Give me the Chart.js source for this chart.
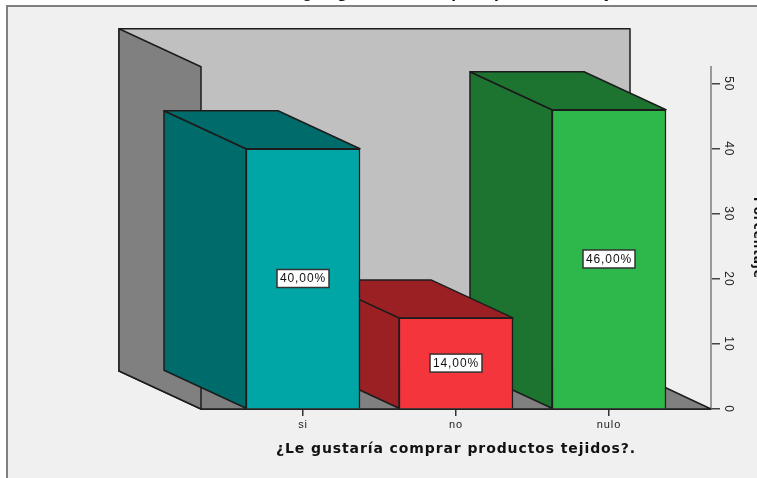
<!DOCTYPE html>
<html>
<head>
<meta charset="utf-8">
<script src="https://cdn.jsdelivr.net/npm/chart.js@4"></script>
<style>
    html, body { margin: 0; background: #fff; }
    /* the reference is cropped on the top and right, so the canvas hangs over the edge */
    #wrap { position: relative; width: 757px; height: 478px; overflow: hidden; }
    #chart { position: absolute; left: 0; top: -14px; }
</style>
</head>
<body>
<div id="wrap"><canvas id="chart" width="764" height="492"></canvas></div>
<script>
const categories = ['si', 'no', 'nulo'];
const percentages = [40, 14, 46];
const yTickValues = [0, 10, 20, 30, 40, 50];
const xTitle = '¿Le gustaría comprar productos tejidos?.';
const yTitle = 'Porcentaje';

const frontColors = ['#00a6a6', '#f4353b', '#2eb84c'];
const darkColors = ['#006b6b', '#9a2024', '#1d7330'];

const DEPTH_X = -82;
const DEPTH_Y = -38;
const LINE = '#1c1c1c';

function poly(ctx, pts, fill) {
    ctx.beginPath();
    pts.forEach((p, i) => i ? ctx.lineTo(p[0], p[1]) : ctx.moveTo(p[0], p[1]));
    ctx.closePath();
    ctx.fillStyle = fill;
    ctx.fill();
    ctx.lineWidth = 1.5;
    ctx.strokeStyle = LINE;
    ctx.lineJoin = 'round';
    ctx.stroke();
}

const box3d = {
    id: 'box3d',
    beforeDraw(chart) {
        const { ctx } = chart;
        ctx.save();
        ctx.fillStyle = '#fff';
        ctx.fillRect(0, 0, chart.width, chart.height);
        ctx.fillStyle = '#f0f0f0';
        ctx.fillRect(6, 19, chart.width, chart.height);
        ctx.fillStyle = '#808080';
        ctx.fillRect(6, 19, chart.width, 2);
        ctx.fillRect(6, 19, 2, chart.height);
        ctx.restore();
        // all the text in the reference is a bit spaced out
        ctx.letterSpacing = '0.9px';
    },
    beforeDatasetsDraw(chart) {
        const { ctx, chartArea: a } = chart;
        ctx.save();
        // back wall, floor and left wall
        poly(ctx, [[a.left + DEPTH_X, a.top + DEPTH_Y], [a.right - 81 , a.top + DEPTH_Y], [a.right - 81, a.bottom + DEPTH_Y], [a.left + DEPTH_X, a.bottom + DEPTH_Y]], '#c0c0c0');
        poly(ctx, [[a.left + DEPTH_X, a.bottom + DEPTH_Y], [a.right - 81, a.bottom + DEPTH_Y], [a.right, a.bottom], [a.left, a.bottom]], '#808080');
        poly(ctx, [[a.left + DEPTH_X, a.top + DEPTH_Y], [a.left, a.top], [a.left, a.bottom], [a.left + DEPTH_X, a.bottom + DEPTH_Y]], '#808080');

        // right to left, the nearer bar hides the side of the next one
        const bars = chart.getDatasetMeta(0).data;
        for (let i = bars.length - 1; i >= 0; i--) {
            const b = bars[i];
            const l = b.x - b.width / 2, r = b.x + b.width / 2;
            poly(ctx, [[l + DEPTH_X, b.y + DEPTH_Y], [l, b.y], [l, b.base], [l + DEPTH_X, b.base + DEPTH_Y]], darkColors[i]);
            poly(ctx, [[l + DEPTH_X, b.y + DEPTH_Y], [r + DEPTH_X, b.y + DEPTH_Y], [r, b.y], [l, b.y]], darkColors[i]);
        }
        ctx.restore();
    },
    afterDatasetsDraw(chart) {
        const { ctx } = chart;
        const bars = chart.getDatasetMeta(0).data;
        ctx.save();
        ctx.font = '12px "Liberation Sans"';
        ctx.textAlign = 'center';
        ctx.textBaseline = 'middle';
        bars.forEach((b, i) => {
            const cy = (b.y + b.base) / 2;
            ctx.fillStyle = '#fff';
            ctx.fillRect(b.x - 26, cy - 9, 52, 18);
            ctx.strokeStyle = '#333';
            ctx.lineWidth = 1.5;
            ctx.strokeRect(b.x - 26, cy - 9, 52, 18);
            ctx.fillStyle = '#111';
            ctx.fillText(percentages[i].toFixed(2).replace('.', ',') + '%', b.x, cy + 0.5);
        });
        ctx.restore();
    }
};

new Chart(document.getElementById('chart'), {
    type: 'bar',
    plugins: [box3d],
    data: {
        datasets: [{
            data: categories.map((c, i) => ({ x: i, y: percentages[i] })),
            backgroundColor: frontColors,
            borderColor: LINE,
            borderWidth: 1.5,
            barThickness: 114
        }]
    },
    options: {
        responsive: false,
        animation: false,
        devicePixelRatio: 1,
        layout: { padding: { left: 201 } },
        plugins: {
            legend: { display: false },
            tooltip: { enabled: false },
            title: {
                display: true,
                text: xTitle,
                color: '#111',
                font: { family: 'DejaVu Sans', size: 14, weight: 'bold' },
                padding: { top: 0, bottom: 64 }
            }
        },
        scales: {
            x: {
                type: 'linear',
                offset: false,
                min: -0.6667,
                max: 2.6667,
                afterBuildTicks(scale) { scale.ticks = categories.map((c, i) => ({ value: i })); },
                afterFit(scale) { scale.height = 69; },
                border: { color: '#333', width: 2 },
                grid: { offset: false, drawOnChartArea: false, color: '#333', tickLength: 7, lineWidth: 1.5 },
                ticks: {
                    color: '#222',
                    font: { family: 'Liberation Sans', size: 11 },
                    maxRotation: 0,
                    padding: 2,
                    callback: v => categories[v]
                },
                title: {
                    display: true,
                    text: xTitle,
                    color: '#111',
                    font: { family: 'DejaVu Sans', size: 14, weight: 'bold' },
                    padding: { top: 8, bottom: 20 }
                }
            },
            y: {
                position: 'right',
                min: 0,
                max: 52.6,
                afterBuildTicks(scale) { scale.ticks = yTickValues.map(v => ({ value: v })); },
                afterFit(scale) { scale.width = 53; },
                border: { color: '#999', width: 2 },
                grid: { drawOnChartArea: false, color: '#444', tickLength: 9, lineWidth: 1.5 },
                ticks: {
                    color: '#222',
                    font: { family: 'Liberation Sans', size: 12 },
                    minRotation: -90,
                    maxRotation: -90,
                    crossAlign: 'center',
                    padding: 2
                },
                title: {
                    display: true,
                    text: yTitle,
                    color: '#111',
                    font: { family: 'DejaVu Sans', size: 12, weight: 'bold' },
                    padding: 0
                }
            }
        }
    }
});
</script>
</body>
</html>
